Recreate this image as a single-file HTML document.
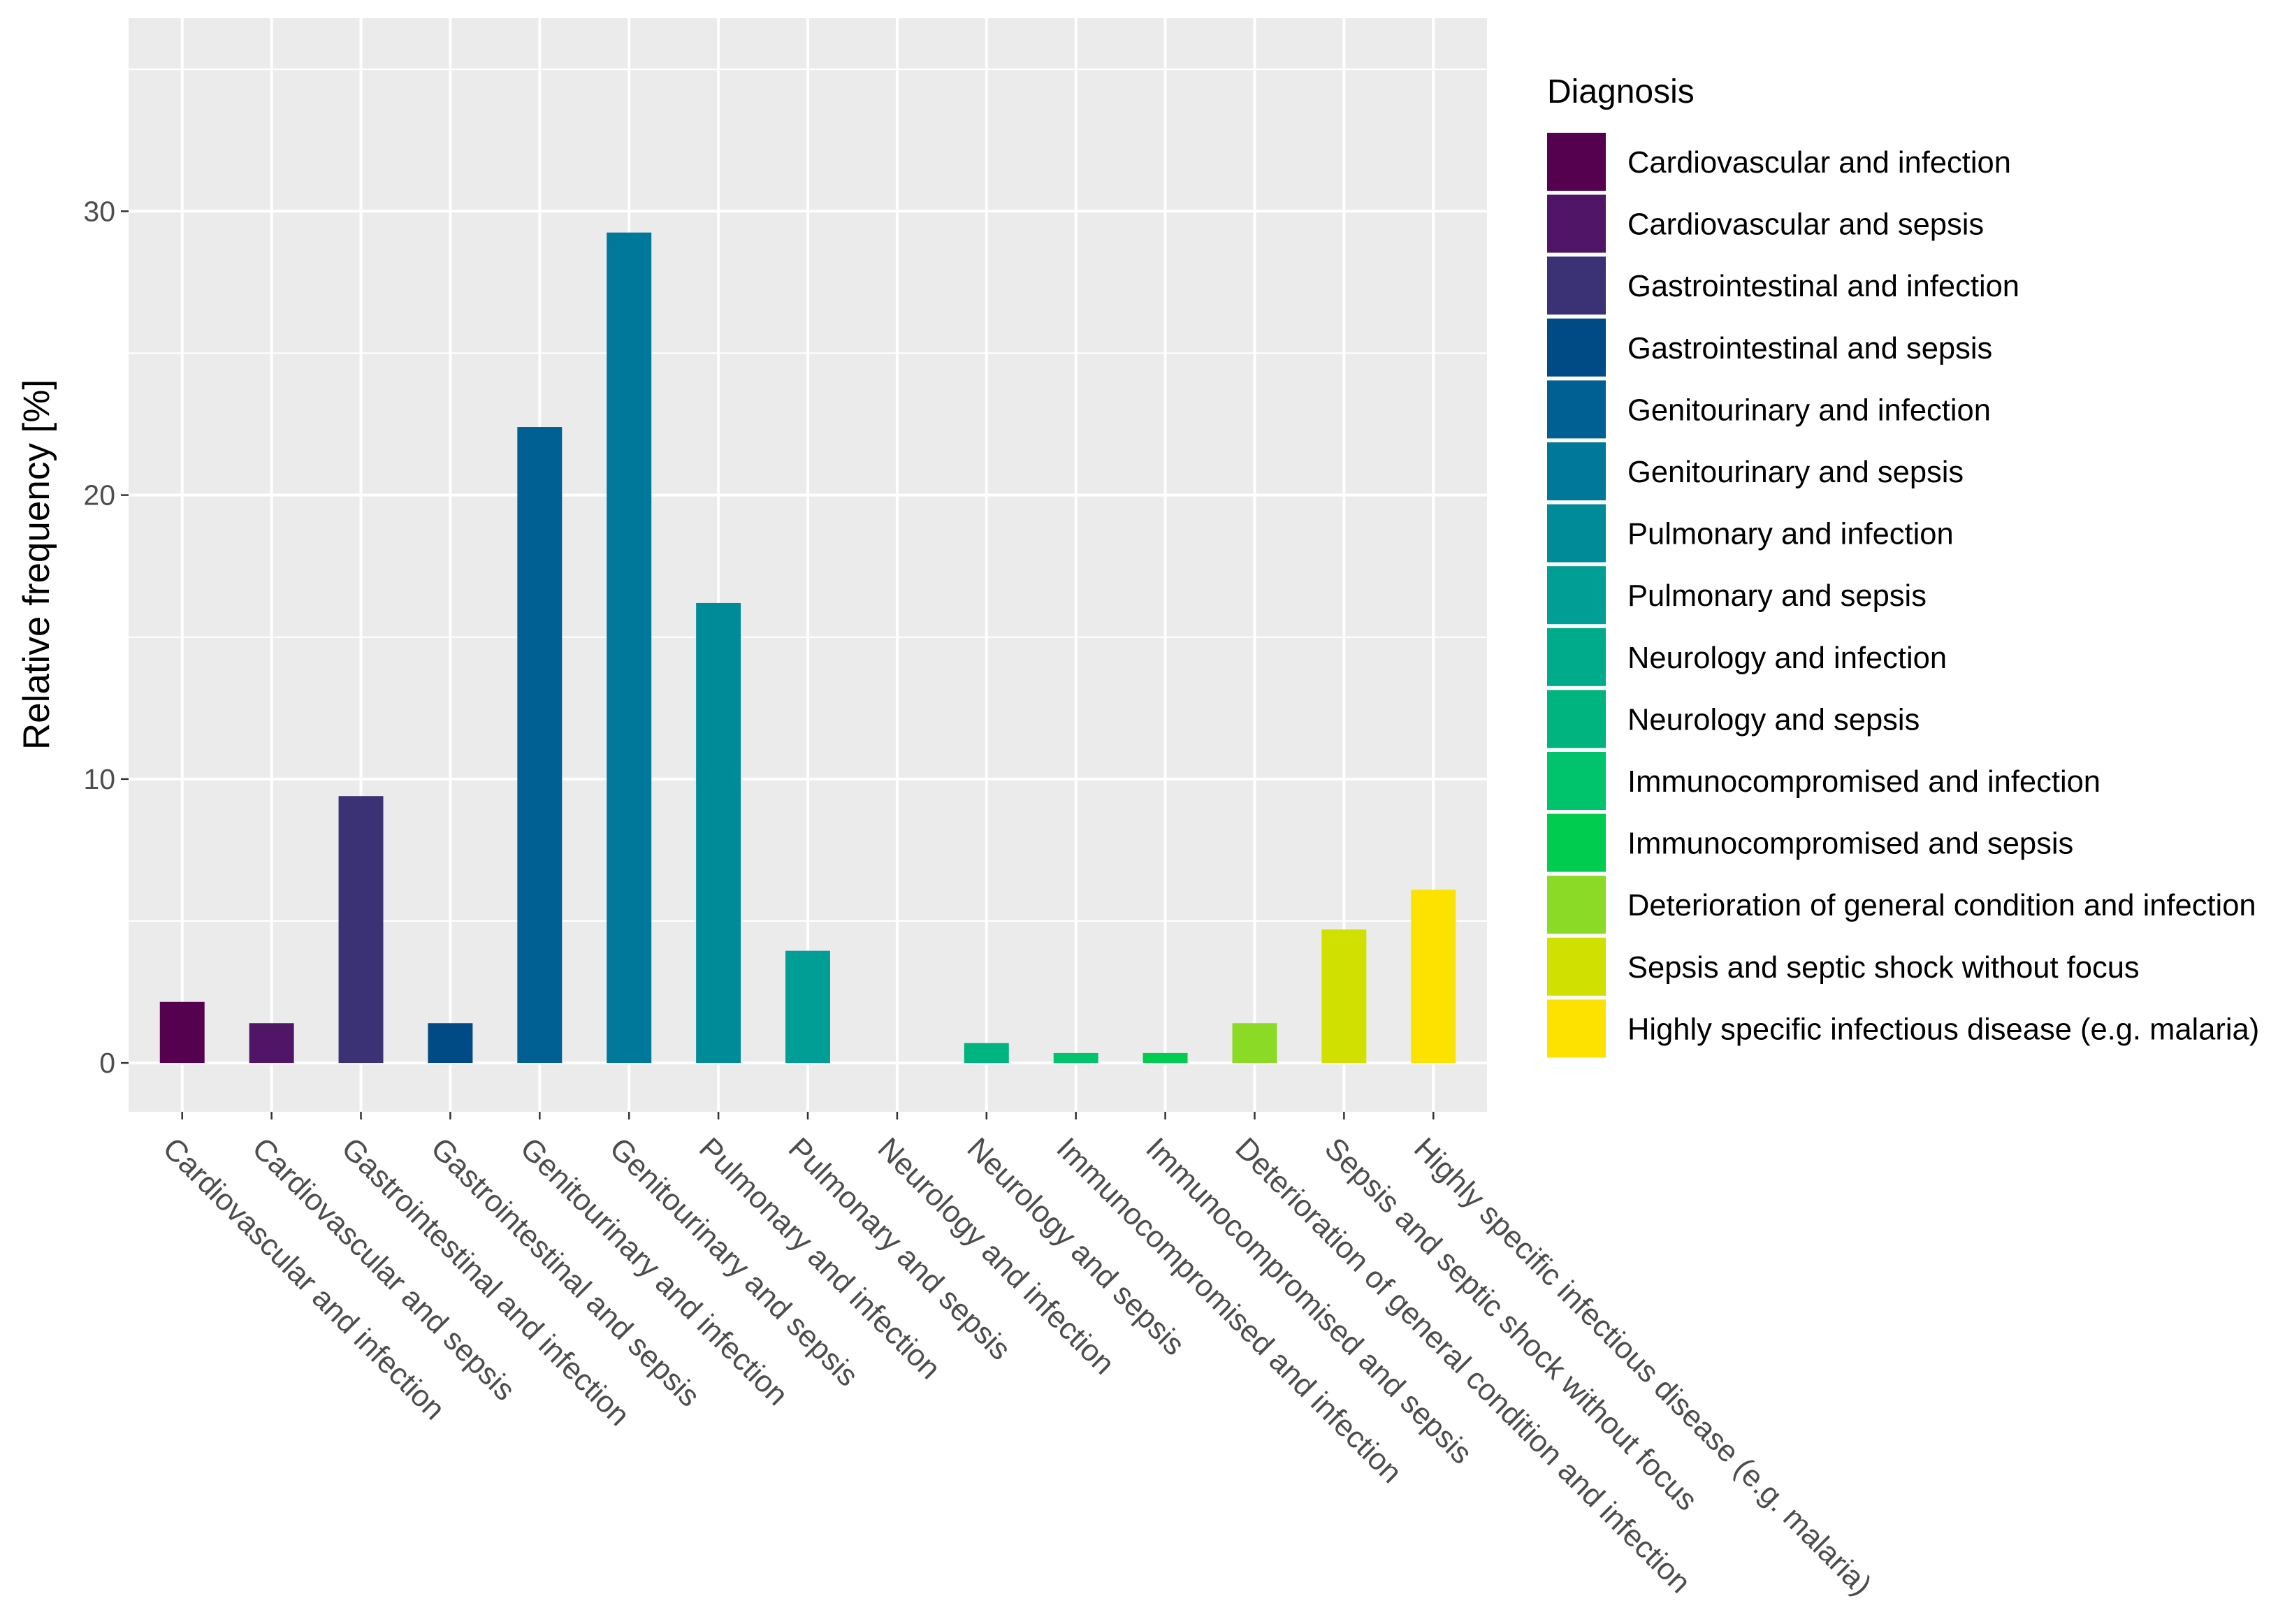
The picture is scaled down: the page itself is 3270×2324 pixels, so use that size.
<!DOCTYPE html>
<html><head><meta charset="utf-8"><style>
html,body{margin:0;padding:0;background:#fff;}
svg{display:block;font-family:"Liberation Sans",sans-serif;}
</style></head><body>
<svg id="chart" width="3270" height="2324" viewBox="0 0 3270 2324" xmlns="http://www.w3.org/2000/svg">
<rect x="184" y="26" width="1944" height="1565" fill="#ebebeb"/>
<g id="grid"></g><g id="bars"></g><g id="xaxis"></g><g id="yaxis"></g>
<text transform="translate(70,808) rotate(-90)" text-anchor="middle" font-size="53" fill="#000">Relative frequency [%]</text>
<g id="legend">
<text x="2214" y="147" font-size="48" fill="#000">Diagnosis</text>
</g>
</svg>
<script>
const categories=["Cardiovascular and infection","Cardiovascular and sepsis","Gastrointestinal and infection","Gastrointestinal and sepsis","Genitourinary and infection","Genitourinary and sepsis","Pulmonary and infection","Pulmonary and sepsis","Neurology and infection","Neurology and sepsis","Immunocompromised and infection","Immunocompromised and sepsis","Deterioration of general condition and infection","Sepsis and septic shock without focus","Highly specific infectious disease (e.g. malaria)"];
const values=[2.15,1.4,9.4,1.4,22.4,29.25,16.2,3.95,0,0.7,0.35,0.35,1.4,4.7,6.1];
const colors=["#560050","#501566","#3b3276","#004a85","#006094","#00789a","#008b99","#009e94","#00ab8c","#00b47f","#00c46c","#00cc4f","#8bdb26","#d0e000","#fde200"];
const yTicks=[0,10,20,30];
const yMinor=[5,15,25,35];
const NS="http://www.w3.org/2000/svg";
const L=184,R=2128,T=26,B=1591;
const yMin=-1.72,yMax=36.8;
function y(v){return B-(v-yMin)/(yMax-yMin)*(B-T);}
const step=(R-L)/(categories.length-1+1.2);
function x(i){return L+step*(0.6+i);}
function mk(tag,attrs,parent){const e=document.createElementNS(NS,tag);for(const k in attrs)e.setAttribute(k,attrs[k]);parent.appendChild(e);return e;}
const grid=document.getElementById('grid'),bars=document.getElementById('bars'),xa=document.getElementById('xaxis'),ya=document.getElementById('yaxis'),lg=document.getElementById('legend');
yMinor.forEach(v=>{const l=mk('line',{x1:L,x2:R,y1:y(v),y2:y(v),stroke:'#fff','stroke-width':2},grid);

});
yTicks.forEach(v=>{const l=mk('line',{x1:L,x2:R,y1:y(v),y2:y(v),stroke:'#fff','stroke-width':4},grid);


const t=mk('line',{x1:173,x2:184,y1:y(v),y2:y(v),stroke:'#333','stroke-width':2.5},ya);


const tx=mk('text',{x:165,y:y(v)+14,'text-anchor':'end','font-size':41,fill:'#4d4d4d'},ya);tx.textContent=v;

});
categories.forEach((c,i)=>{const cx=x(i);
const g=mk('line',{x1:cx,x2:cx,y1:T,y2:B,stroke:'#fff','stroke-width':4},grid);


const w=step*0.5;
const b=mk('rect',{x:cx-w/2,y:y(values[i]),width:w,height:Math.max(0,y(0)-y(values[i])),fill:colors[i]},bars);


const t=mk('line',{x1:cx,x2:cx,y1:B,y2:B+11,stroke:'#333','stroke-width':2.5},xa);


const tx=mk('text',{transform:'translate('+(cx-8)+','+1624+') rotate(45)','font-size':43.5,fill:'#4d4d4d',dy:'0.72em'},xa);tx.textContent=c;


const ky=190+i*88.6;
const k=mk('rect',{x:2214,y:ky,width:84,height:83,fill:colors[i]},lg);


const lt=mk('text',{x:2329,y:ky+57,'font-size':43.5,fill:'#000'},lg);lt.textContent=c;

});
</script>
</body></html>
